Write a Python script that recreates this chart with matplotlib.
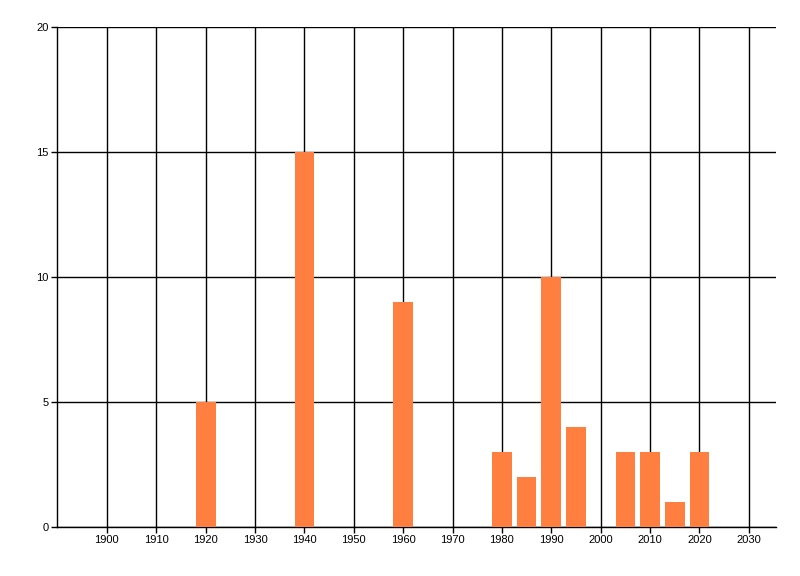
import matplotlib
matplotlib.use('Agg')
from matplotlib import pyplot as plt

years = [1920, 1940, 1960, 1980, 1985, 1990, 1995, 2005, 2010, 2015, 2020]
counts = [5, 15, 9, 3, 2, 10, 4, 3, 3, 1, 3]
x_ticks = list(range(1900, 2031, 10))
y_ticks = [0, 5, 10, 15, 20]

plt.rcParams['font.family'] = ['Liberation Sans', 'DejaVu Sans']

fig = plt.figure(figsize=(8, 5.76), dpi=100)
ax = fig.add_axes([57/800, 49/576, (776-57)/800, (527-27)/576])

ax.bar(years, counts, width=4, color='#FF7F40', zorder=3)

ax.set_xlim(1889.9, 2035.5)
ax.set_ylim(0, 20)
ax.set_xticks(x_ticks)
ax.set_yticks(y_ticks)
ax.grid(True, color='black', linewidth=1, zorder=1)
ax.set_axisbelow(True)

for s in ['top', 'right']:
    ax.spines[s].set_visible(False)
for s in ['left', 'bottom']:
    ax.spines[s].set_linewidth(1)
    ax.spines[s].set_color('black')

ax.tick_params(axis='both', length=4, width=1, labelsize=8, pad=2, colors='black')

fig.savefig('out.png', dpi=100)
